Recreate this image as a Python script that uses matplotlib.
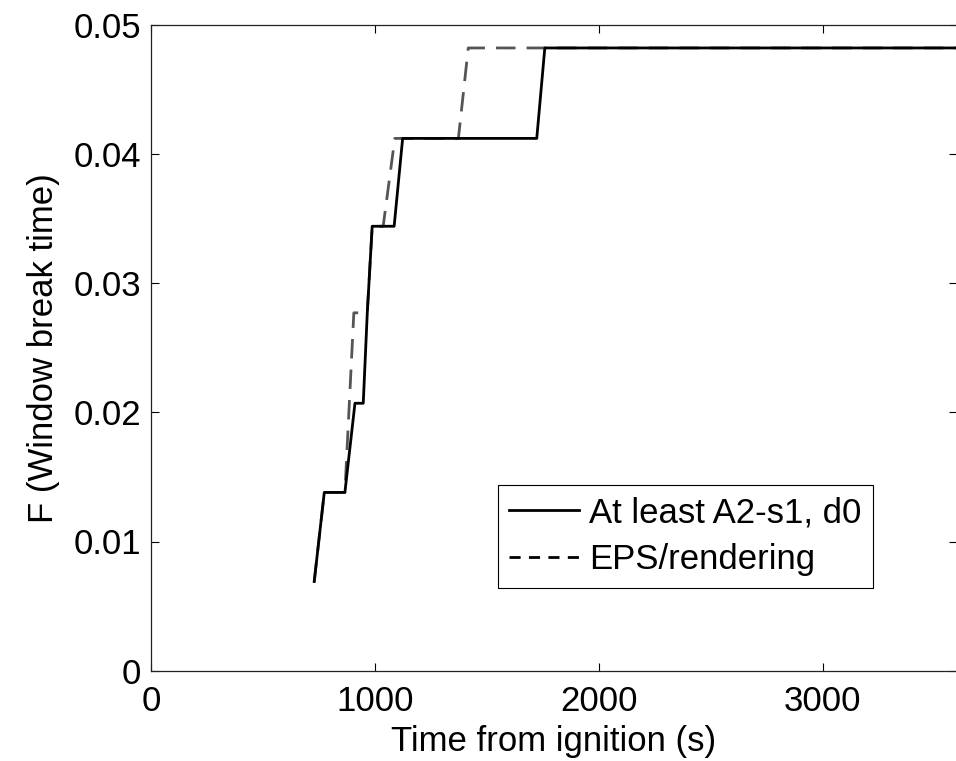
import matplotlib
matplotlib.use("Agg")
import matplotlib.pyplot as plt
from matplotlib.lines import Line2D

plt.rcParams['font.family'] = ['Liberation Sans', 'DejaVu Sans']

# CDF of window break time
solid_t = [729, 774, 866, 911, 948, 966, 988, 1086, 1124, 1723, 1759, 3600]
solid_F = [0.0069, 0.0138, 0.0138, 0.0207, 0.0207, 0.0277, 0.0344, 0.0344,
           0.0412, 0.0412, 0.0482, 0.0482]

dashed_t = [729, 774, 866, 906, 966, 988, 1037, 1089, 1373, 1417, 3600]
dashed_F = [0.0069, 0.0138, 0.0138, 0.0277, 0.0277, 0.0344, 0.0344, 0.0412,
            0.0412, 0.0482, 0.0482]

labels = ["At least A2-s1, d0", "EPS/rendering"]
xticks = [0, 1000, 2000, 3000]
yticks = [0, 0.01, 0.02, 0.03, 0.04, 0.05]
ytick_labels = ["0", "0.01", "0.02", "0.03", "0.04", "0.05"]

fs = 25

fig = plt.figure(figsize=(9.56, 7.61), dpi=100)
ax = fig.add_axes([151 / 956, 90.3 / 761, 806 / 956, 646 / 761])

ax.plot(dashed_t, dashed_F, color='#555555', lw=2, dashes=(7, 4))
ax.plot(solid_t, solid_F, color='black', lw=2)

ax.set_xlim(0, 3600)
ax.set_ylim(0, 0.05)
ax.set_xticks(xticks)
ax.set_yticks(yticks)
ax.set_yticklabels(ytick_labels)
ax.tick_params(direction='in', top=True, right=True, length=6, width=0.8,
               labelsize=fs, pad=7)
ax.tick_params(axis='x', pad=10)
for s in ax.spines.values():
    s.set_linewidth(0.9)
    s.set_color('#222222')

ax.set_xlabel("Time from ignition (s)", fontsize=fs, labelpad=5)
ax.set_ylabel("F (Window break time)", fontsize=fs, labelpad=10)

handles = [Line2D([], [], color='black', lw=2),
           Line2D([], [], color='black', lw=2, dashes=(4, 3))]
leg = ax.legend(handles, labels, loc='upper left', bbox_to_anchor=(0.4305, 0.2875),
                fontsize=fs, frameon=True, fancybox=False, edgecolor='black',
                framealpha=1, borderaxespad=0, borderpad=0.33, labelspacing=0.4,
                handlelength=2.0, handletextpad=0.3)
leg.get_frame().set_linewidth(0.8)

fig.savefig("out.png", dpi=100)
